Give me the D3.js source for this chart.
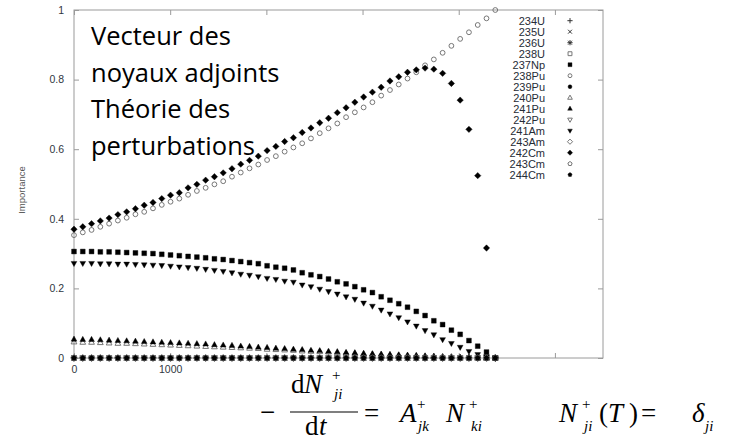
<!DOCTYPE html>
<html>
<head>
<meta charset="utf-8">
<script src="https://cdn.jsdelivr.net/npm/d3@7"></script>
<style>
body { margin: 0; background: #fff; }
svg { display: block; }
</style>
</head>
<body>
<svg width="739" height="442"></svg>
<script>

// time steps (days), 12 years in quarter-year steps
var times = [0, 91.25, 182.5, 273.75, 365, 456.25, 547.5, 638.75, 730, 821.25,
  912.5, 1003.75, 1095, 1186.25, 1277.5, 1368.75, 1460, 1551.25, 1642.5, 1733.75,
  1825, 1916.25, 2007.5, 2098.75, 2190, 2281.25, 2372.5, 2463.75, 2555, 2646.25,
  2737.5, 2828.75, 2920, 3011.25, 3102.5, 3193.75, 3285, 3376.25, 3467.5, 3558.75,
  3650, 3741.25, 3832.5, 3923.75, 4015, 4106.25, 4197.5, 4288.75, 4380];

var nuclides = ["234U", "235U", "236U", "238U", "237Np", "238Pu", "239Pu", "240Pu",
  "241Pu", "242Pu", "241Am", "243Am", "242Cm", "243Cm", "244Cm"];
// gnuplot point types 1..15
var pointTypes = [1, 2, 3, 4, 5, 6, 7, 8, 9, 10, 11, 12, 13, 14, 15];

var zeroRow = [0, 0, 0, 0, 0, 0, 0, 0, 0, 0, 0, 0, 0, 0, 0, 0, 0, 0, 0, 0, 0, 0, 0, 0, 0,
  0, 0, 0, 0, 0, 0, 0, 0, 0, 0, 0, 0, 0, 0, 0, 0, 0, 0, 0, 0, 0, 0, 0, 0];

var np237 = [0.306, 0.306, 0.306, 0.305, 0.305, 0.304, 0.303, 0.302, 0.301, 0.300,
  0.298, 0.296, 0.294, 0.292, 0.290, 0.288, 0.285, 0.283, 0.280, 0.277,
  0.274, 0.271, 0.265, 0.261, 0.258, 0.253, 0.245, 0.239, 0.234, 0.227,
  0.219, 0.213, 0.205, 0.196, 0.188, 0.176, 0.166, 0.156, 0.146, 0.134,
  0.122, 0.107, 0.096, 0.080, 0.068, 0.050, 0.034, 0.017, 0];

var pu238 = [0.353, 0.361, 0.368, 0.377, 0.386, 0.395, 0.403, 0.413, 0.420, 0.430,
  0.440, 0.449, 0.458, 0.469, 0.480, 0.489, 0.499, 0.508, 0.521, 0.533,
  0.545, 0.556, 0.569, 0.580, 0.593, 0.605, 0.617, 0.631, 0.646, 0.660,
  0.674, 0.692, 0.706, 0.720, 0.735, 0.754, 0.770, 0.786, 0.803, 0.821,
  0.841, 0.858, 0.877, 0.897, 0.917, 0.936, 0.957, 0.976, 1.000];

var pu240 = [0.046, 0.045, 0.045, 0.044, 0.043, 0.042, 0.042, 0.041, 0.040, 0.039,
  0.038, 0.037, 0.036, 0.035, 0.034, 0.033, 0.032, 0.031, 0.030, 0.029,
  0.028, 0.027, 0.025, 0.024, 0.023, 0.022, 0.020, 0.019, 0.018, 0.017,
  0.015, 0.014, 0.013, 0.012, 0.011, 0.010, 0.009, 0.008, 0.007, 0.006,
  0.005, 0.004, 0.003, 0.003, 0.002, 0.001, 0.001, 0, 0];

var pu241 = [0.054, 0.053, 0.053, 0.052, 0.051, 0.050, 0.049, 0.048, 0.047, 0.046,
  0.045, 0.044, 0.043, 0.042, 0.041, 0.040, 0.038, 0.037, 0.036, 0.034,
  0.033, 0.031, 0.030, 0.028, 0.027, 0.025, 0.024, 0.022, 0.021, 0.019,
  0.018, 0.016, 0.015, 0.013, 0.012, 0.011, 0.010, 0.009, 0.008, 0.007,
  0.006, 0.005, 0.004, 0.003, 0.002, 0.002, 0.001, 0.001, 0];

var am241 = [0.272, 0.272, 0.272, 0.271, 0.271, 0.270, 0.270, 0.269, 0.268, 0.267,
  0.266, 0.264, 0.262, 0.260, 0.258, 0.255, 0.252, 0.249, 0.245, 0.241,
  0.238, 0.234, 0.229, 0.226, 0.221, 0.218, 0.210, 0.205, 0.198, 0.191,
  0.184, 0.176, 0.169, 0.158, 0.149, 0.138, 0.127, 0.116, 0.104, 0.092,
  0.079, 0.067, 0.053, 0.042, 0.031, 0.019, 0.010, 0.004, 0];

var cm242 = [0.370, 0.377, 0.386, 0.394, 0.402, 0.412, 0.420, 0.429, 0.439, 0.447,
  0.458, 0.468, 0.475, 0.489, 0.499, 0.511, 0.521, 0.532, 0.544, 0.557,
  0.568, 0.580, 0.596, 0.608, 0.622, 0.633, 0.648, 0.661, 0.676, 0.689,
  0.705, 0.719, 0.735, 0.750, 0.764, 0.778, 0.796, 0.808, 0.821, 0.828,
  0.833, 0.830, 0.818, 0.789, 0.741, 0.657, 0.524, 0.316, 0];

// one row per nuclide, same order as the legend
var seriesValues = [zeroRow, zeroRow, zeroRow, zeroRow, np237, pu238, zeroRow, pu240,
  pu241, zeroRow, am241, zeroRow, cm242, zeroRow, zeroRow];

var xTicks = [0, 1000, 2000, 3000, 4000, 5000];
var yTicks = [0, 0.2, 0.4, 0.6, 0.8, 1];
var titleLines = ["Vecteur des", "noyaux adjoints", "Théorie des", "perturbations"];

var svg = d3.select("svg");

var x = d3.scaleLinear().domain([0, 5500]).range([74, 603]);
var y = d3.scaleLinear().domain([0, 1]).range([358, 10]);

var filledTypes = [5, 7, 9, 11, 13, 15];
var lineTypes = [1, 2, 3];

function markerPath(pt, s) {
  var k = s * 0.75;
  switch(pt) {
    case 1:
      return "M" + (-s) + ",0H" + s + "M0," + (-s) + "V" + s;
    case 2:
      return "M" + (-k) + "," + (-k) + "L" + k + "," + k + "M" + (-k) + "," + k + "L" + k + "," + (-k);
    case 3:
      return "M" + (-s) + ",0H" + s + "M0," + (-s) + "V" + s +
        "M" + (-k) + "," + (-k) + "L" + k + "," + k + "M" + (-k) + "," + k + "L" + k + "," + (-k);
    case 4:
    case 5:
      return "M" + (-k) + "," + (-k) + "H" + k + "V" + k + "H" + (-k) + "Z";
    case 6:
    case 7:
      return "M" + (-k) + ",0A" + k + "," + k + " 0 1,0 " + k + ",0A" + k + "," + k + " 0 1,0 " + (-k) + ",0Z";
    case 8:
    case 9:
      return "M0," + (-s) + "L" + (s * 0.9) + "," + (s * 0.6) + "L" + (-s * 0.9) + "," + (s * 0.6) + "Z";
    case 10:
    case 11:
      return "M0," + s + "L" + (s * 0.9) + "," + (-s * 0.6) + "L" + (-s * 0.9) + "," + (-s * 0.6) + "Z";
    case 12:
    case 13:
      return "M0," + (-s) + "L" + s + ",0L0," + s + "L" + (-s) + ",0Z";
    default:
      var pts = [];
      for (var i = 0; i < 5; i++) {
        var a = -Math.PI / 2 + i * 2 * Math.PI / 5;
        pts.push([Math.cos(a) * s * 0.85, Math.sin(a) * s * 0.85]);
      }
      return "M" + pts.join("L") + "Z";
  }
}

function styleMarker(sel, pt) {
  if (filledTypes.indexOf(pt) >= 0) {
    sel.attr("fill", "#000").attr("stroke", "#000").attr("stroke-width", 0.4);
  } else if (lineTypes.indexOf(pt) >= 0) {
    sel.attr("fill", "none").attr("stroke", "#333").attr("stroke-width", 1);
  } else {
    sel.attr("fill", "none").attr("stroke", "#777").attr("stroke-width", 1);
  }
}

// frame + ticks (gnuplot style, inward, mirrored)
svg.append("rect")
    .attr("x", x(0)).attr("y", y(1))
    .attr("width", x(5500) - x(0)).attr("height", y(0) - y(1))
    .attr("fill", "none").attr("stroke", "#9a9a9a").attr("stroke-width", 1);

function styleAxis(g) {
  g.select(".domain").remove();
  g.selectAll(".tick line").attr("stroke", "#9a9a9a");
  g.selectAll(".tick text")
      .attr("fill", "#2f3640")
      .attr("font-family", "Liberation Sans, Arial, sans-serif")
      .attr("font-size", "10.5px");
}

svg.append("g")
    .attr("transform", "translate(" + x(0) + ",0)")
    .call(d3.axisLeft(y).tickValues(yTicks).tickFormat(d3.format("~g"))
      .tickSizeInner(-5).tickSizeOuter(0).tickPadding(10))
    .call(styleAxis);

svg.append("g")
    .attr("transform", "translate(" + x(5500) + ",0)")
    .call(d3.axisRight(y).tickValues(yTicks).tickFormat("")
      .tickSizeInner(-5).tickSizeOuter(0))
    .call(styleAxis);

svg.append("g")
    .attr("transform", "translate(0," + y(0) + ")")
    .call(d3.axisBottom(x).tickValues(xTicks).tickFormat(d3.format("d"))
      .tickSizeInner(-5).tickSizeOuter(0).tickPadding(8))
    .call(styleAxis);

svg.append("g")
    .attr("transform", "translate(0," + y(1) + ")")
    .call(d3.axisTop(x).tickValues(xTicks).tickFormat("")
      .tickSizeInner(-5).tickSizeOuter(0))
    .call(styleAxis);

svg.append("text")
    .attr("transform", "translate(25,190) rotate(-90)")
    .attr("text-anchor", "middle")
    .attr("font-family", "Liberation Sans, Arial, sans-serif")
    .attr("font-size", "9.5px")
    .attr("fill", "#555")
    .text("Importance");

// data points
nuclides.forEach(function(name, i) {
  var pt = pointTypes[i];
  var pts = seriesValues[i].map(function(v, j) { return {t: times[j], v: v}; });
  svg.append("g")
      .attr("class", "series")
    .selectAll("path")
    .data(pts)
    .enter().append("path")
      .attr("transform", function(d) { return "translate(" + x(d.t) + "," + y(d.v) + ")"; })
      .attr("d", markerPath(pt, 3.2))
      .call(styleMarker, pt);
});

// legend
var legend = svg.append("g").attr("class", "legend");
nuclides.forEach(function(name, i) {
  var ly = 20.7 + 11 * i;
  legend.append("text")
      .attr("x", 545).attr("y", ly).attr("dy", "0.36em")
      .attr("text-anchor", "end")
      .attr("font-family", "Liberation Sans, Arial, sans-serif")
      .attr("font-size", "11px")
      .attr("fill", "#262c36")
      .text(name);
  legend.append("path")
      .attr("transform", "translate(570," + ly + ")")
      .attr("d", markerPath(pointTypes[i], 2.6))
      .call(styleMarker, pointTypes[i]);
});

// slide overlay text
svg.append("g")
    .selectAll("text")
    .data(titleLines)
    .enter().append("text")
      .attr("x", 91)
      .attr("y", function(d, i) { return 45 + i * 36.5; })
      .attr("font-family", "Open Sans, sans-serif")
      .attr("font-size", "25.5px")
      .attr("fill", "#000")
      .text(function(d) { return d; });

// equation box (covers the lower tick labels, as on the slide)
svg.append("rect")
    .attr("x", 200).attr("y", 363).attr("width", 539).attr("height", 79)
    .attr("fill", "#fff");

var eq = svg.append("g")
    .attr("font-family", "Liberation Serif, Times New Roman, serif")
    .attr("fill", "#000");

function put(txt, px, py, size, italic) {
  eq.append("text")
      .attr("x", px).attr("y", py)
      .attr("font-size", size + "px")
      .attr("font-style", italic ? "italic" : "normal")
      .text(txt);
}

put("\u2212", 260, 421, 27, false);
put("d", 291, 393, 27, false);
put("N", 304, 393, 27, true);
put("+", 332, 380, 15, false);
put("ji", 334, 399, 15, true);
eq.append("line")
    .attr("x1", 290).attr("x2", 358).attr("y1", 412).attr("y2", 412)
    .attr("stroke", "#000").attr("stroke-width", 1.2);
put("d", 305, 435, 27, false);
put("t", 319, 435, 27, true);
put("=", 364, 422, 27, false);
put("A", 400, 422, 27, true);
put("+", 417, 409, 15, false);
put("jk", 418, 431, 15, true);
put("N", 446, 422, 27, true);
put("+", 469, 409, 15, false);
put("ki", 471, 431, 15, true);
put("N", 559, 422, 27, true);
put("+", 582, 409, 15, false);
put("ji", 584, 431, 15, true);
put("(", 599, 422, 27, false);
put("T", 608, 422, 27, true);
put(")", 629, 422, 27, false);
put("=", 641, 422, 27, false);
put("\u03b4", 692, 422, 27, true);
put("ji", 705, 431, 15, true);

</script>
</body>
</html>
